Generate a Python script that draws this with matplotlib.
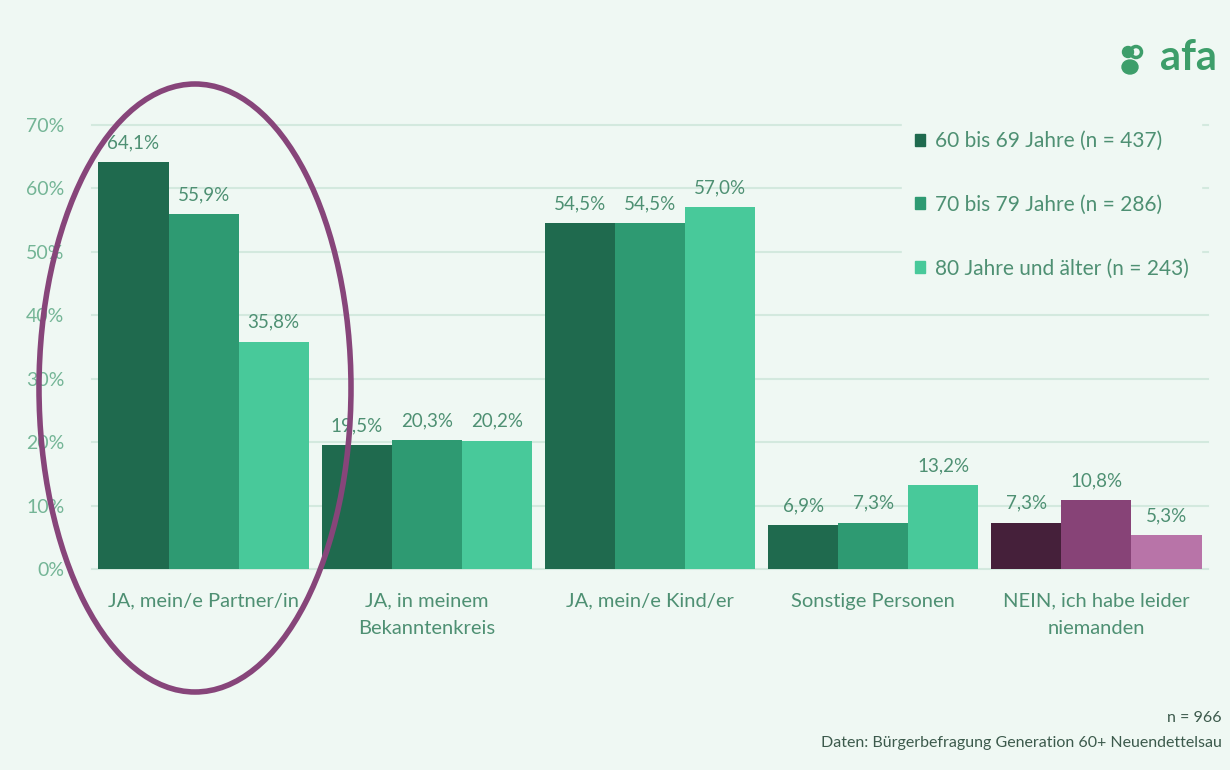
import numpy as np
import matplotlib.pyplot as plt
from matplotlib.patches import Ellipse

categories = ["JA, mein/e Partner/in", "JA, in meinem\nBekanntenkreis", "JA, mein/e Kind/er",
              "Sonstige Personen", "NEIN, ich habe leider\nniemanden"]
series = ["60 bis 69 Jahre (n = 437)", "70 bis 79 Jahre (n = 286)", "80 Jahre und älter (n = 243)"]
s60 = [64.1, 19.5, 54.5, 6.9, 7.3]
s70 = [55.9, 20.3, 54.5, 7.3, 10.8]
s80 = [35.8, 20.2, 57.0, 13.2, 5.3]
yticks = [0, 10, 20, 30, 40, 50, 60, 70]

bg = "#eff8f3"
greens = ["#1f6a4e", "#2e9a72", "#48c99a"]
purples = ["#45203a", "#874377", "#b874a8"]
text_col = "#4e9073"
tick_col = "#74b596"

plt.rcParams['font.family'] = ['Lato', 'DejaVu Sans']

fig = plt.figure(figsize=(12.3, 7.7), dpi=100, facecolor=bg)
ax = fig.add_axes([92/1230, 1-569/770, 1116/1230, 444/770])
ax.set_facecolor(bg)

x = np.arange(len(categories))
w = 0.314
for i, vals in enumerate([s60, s70, s80]):
    cols = [greens[i]] * 4 + [purples[i]]
    pos = x + (i - 1) * w
    ax.bar(pos, vals, width=w, color=cols, zorder=3)
    for px, v in zip(pos, vals):
        ax.annotate(f"{v:.1f}%".replace(".", ","), (px, v), xytext=(0, 8), textcoords="offset points",
                    ha="center", va="bottom", fontsize=13.5, color=text_col, zorder=4)

ax.set_xlim(-0.5, 4.5)
ax.set_ylim(0, 70)
ax.set_yticks(yticks)
ax.set_yticklabels([f"{t}%" for t in yticks], fontsize=14, color=tick_col)
ax.tick_params(axis="y", length=0, pad=20)
ax.set_xticks(x)
ax.set_xticklabels(categories, fontsize=14.5, color=text_col, linespacing=1.75)
ax.tick_params(axis="x", length=0, pad=17)
for t in yticks:
    ax.axhline(t, color="#d3e9de", lw=1.5, zorder=1, clip_on=False)
for s in ax.spines.values():
    s.set_visible(False)

handles = [plt.Rectangle((0, 0), 1, 1, color=c) for c in greens]
leg = ax.legend(handles, series, loc="upper left", bbox_to_anchor=(800/1116, 1.038),
                frameon=True, facecolor=bg, edgecolor=bg, framealpha=1, fontsize=15,
                labelspacing=2.1, handlelength=0.5, handleheight=0.5, handletextpad=0.45,
                borderpad=0.6)
leg.set_zorder(5)
for t in leg.get_texts():
    t.set_color(text_col)

# ring round the first group
fig.patches.append(Ellipse((195/1230, 1-388/770), 312/1230, 608/770, transform=fig.transFigure,
                           fill=False, edgecolor="#87457a", lw=4, zorder=10))

# logo
fig.text(1217/1230, 1-58/770, "afa", fontsize=30, fontweight="bold", color="#3d9e6a",
         ha="right", va="center")
fig.patches.append(Ellipse((1128/1230, 1-52/770), 11/1230, 11/770, transform=fig.transFigure,
                           color="#3d9e6a", zorder=10))
fig.patches.append(Ellipse((1136/1230, 1-52/770), 11/1230, 11/770, transform=fig.transFigure,
                           fill=False, edgecolor="#3d9e6a", lw=2.5, zorder=10))
fig.patches.append(Ellipse((1130/1230, 1-67/770), 16/1230, 14/770, transform=fig.transFigure,
                           color="#3d9e6a", zorder=10))

fig.text(1222/1230, 1-718/770, "n = 966", fontsize=11.5, color="#3c5a4c", ha="right", va="center")
fig.text(1222/1230, 1-743/770, "Daten: Bürgerbefragung Generation 60+ Neuendettelsau", fontsize=11.5,
         color="#3c5a4c", ha="right", va="center")

fig.savefig("out.png", dpi=100, facecolor=bg)
